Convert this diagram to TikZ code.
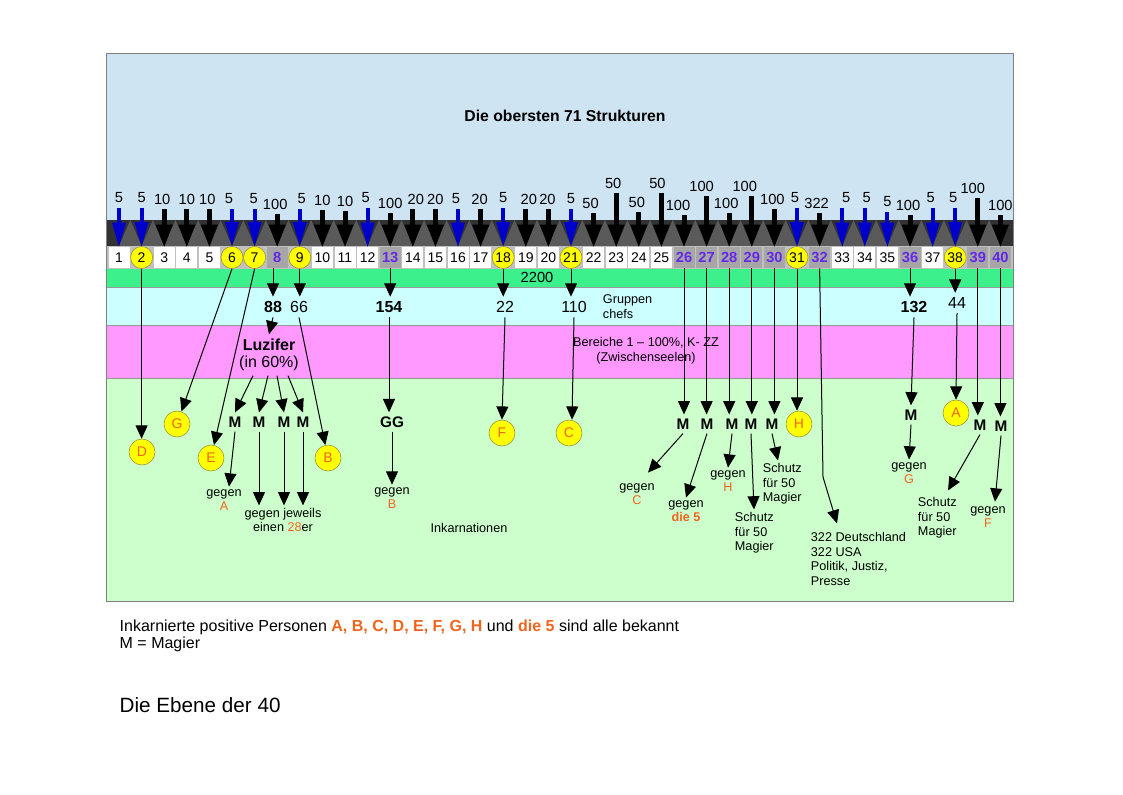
\documentclass[tikz,border=0pt]{standalone}
\usepackage{fontspec}
\setmainfont{Liberation Sans}
\usetikzlibrary{arrows.meta,calc}
\definecolor{himmel}{RGB}{207,228,242}
\definecolor{dunkel}{RGB}{50,50,50}
\definecolor{dunkelhell}{RGB}{90,90,90}
\definecolor{streifen}{RGB}{192,192,192}
\definecolor{zellgrau}{RGB}{166,166,166}
\definecolor{gruen}{RGB}{60,240,140}
\definecolor{tuerkis}{RGB}{204,255,255}
\definecolor{rosa}{RGB}{255,153,255}
\definecolor{hellgruen}{RGB}{204,255,204}
\definecolor{gelb}{RGB}{255,255,0}
\definecolor{gelbrand}{RGB}{150,140,60}
\definecolor{orangerot}{RGB}{240,100,30}
\definecolor{lila}{RGB}{100,40,230}
\definecolor{blaupfeil}{RGB}{0,0,204}
\tikzset{
  zelle/.style={minimum width=15.75pt,minimum height=15.75pt,inner sep=0pt,fill=white,font=\fontsize{10.5}{12}\selectfont},
  hzelle/.style={zelle,fill=zellgrau,text=lila,font=\bfseries\fontsize{11}{12}\selectfont},
  kzelle/.style={circle,fill=gelb,draw=gelbrand,minimum size=16.5pt,inner sep=0pt,font=\fontsize{10.5}{12}\selectfont},
  zahl/.style={font=\fontsize{11}{13}\selectfont},
  gross/.style={font=\fontsize{12}{14}\selectfont},
  grossfett/.style={font=\bfseries\fontsize{12}{14}\selectfont},
  magier/.style={font=\bfseries\fontsize{11.5}{13}\selectfont,inner sep=3pt},
  klein/.style={font=\fontsize{9.5}{10.5}\selectfont,align=center,inner sep=2pt},
  block/.style={font=\fontsize{9.5}{11}\selectfont,align=left,inner sep=2pt},
  buchst/.style={circle,fill=gelb,draw=gelbrand,minimum size=19.5pt,inner sep=0pt,text=orangerot,font=\fontsize{10.5}{12}\selectfont},
  pfeil/.style={line width=0.75pt,-{Triangle[length=10pt,width=9pt]}},
  pfeilschwarz/.style={line width=3.75pt,-{Triangle[length=16.5pt,width=12.75pt,line width=0pt]}},
  pfeilblau/.style={blaupfeil,line width=3pt,-{Triangle[length=18pt,width=10.5pt,line width=0pt]}},
}
\begin{document}
\begin{tikzpicture}[x=0.75pt,y=-0.75pt]
\useasboundingbox (0,0) rectangle (1123,794);
% Baender
\fill[himmel] (106,53) rectangle (1013,220);
\fill[dunkel] (106,220) rectangle (1013,246);
\foreach \i in {1,...,39}
  \fill[dunkelhell] ({119+(\i-1)*22.6},246) -- ({119+(\i-0.5)*22.6},220) -- ({119+\i*22.6},246) -- cycle;
\fill[streifen] (106,246) rectangle (1013,269);
\fill[gruen] (106,269) rectangle (1013,287);
\fill[tuerkis] (106,287) rectangle (1013,325);
\fill[rosa] (106,325) rectangle (1013,378);
\fill[hellgruen] (106,378) rectangle (1013,601);
\draw[gray!80,line width=0.5pt] (106,287) -- (1013,287) (106,325) -- (1013,325) (106,378) -- (1013,378);
\draw[gray,line width=0.6pt] (106,53) rectangle (1013,601);
\node[font=\bfseries\fontsize{11.8}{14}\selectfont] (titel) at (565,116) {Die obersten 71 Strukturen};
% Zellen 1 bis 40
\foreach \i in {1,3,4,5,10,11,12,14,15,16,17,19,20,22,23,24,25,33,34,35,37}
  \node[zelle] (c\i) at ({119+(\i-1)*22.6},257.5) {\i};
\foreach \i in {8,13,26,27,28,29,30,32,36,39,40}
  \node[hzelle] (c\i) at ({119+(\i-1)*22.6},257.5) {\i};
\foreach \i in {2,6,7,9,18,21,31,38}
  \node[kzelle] (c\i) at ({119+(\i-1)*22.6},257.5) {\i};
% blaue Pfeile (je 5)
\foreach \i/\dx/\ly in {1/0/198,2/0/198,6/-3/199,7/-1/199,9/2/199,12/-2/198,16/-2/199,18/0/198,21/0/199,31/-2/198,33/4/198,34/2/198,35/0/202,37/-2/198,38/-2/198}{
  \node[zahl] (l\i) at ({119+(\i-1)*22.6+\dx},\ly) {5};
  \draw[pfeilblau] (c\i.north |- l\i.south) -- (c\i.north);
}
% schwarze Pfeile
\foreach \i/\v/\dx/\ly in {3/10/-2/199,4/10/0/199,5/10/-2/199,8/100/-2/204,10/10/0/200,11/10/0/201,13/100/0/203,14/20/3/199,15/20/0/199,17/20/-1/199,19/20/3/199,20/20/-1/199,22/50/-3/203,23/50/-3/183,24/50/-2/202,25/50/-4/183,26/100/-6/205,27/100/-5/186,28/100/-3/203,29/100/-7/186,30/100/-2/199,32/322/-3/203,36/100/-2/205,39/100/-5/188,40/100/0/205}{
  \node[zahl] (l\i) at ({119+(\i-1)*22.6+\dx},\ly) {\v};
  \draw[pfeilschwarz] (c\i.north |- l\i.south) -- (c\i.north);
}
\node[zahl] (n2200) at (537,277) {2200};
% Gruppenchefs
\node[grossfett] (n88) at (273,307) {88};
\node[gross] (n66) at (299,307) {66};
\node[grossfett] (n154) at (389,307) {154};
\node[gross] (n22) at (505,307) {22};
\node[gross] (n110) at (574,307) {110};
\node[block,anchor=west,font=\fontsize{9.5}{11.25}\selectfont] (gruppen) at (600,306.5) {Gruppen\\chefs};
\node[grossfett] (n132) at (914,307) {132};
\node[gross] (n44) at (957,303) {44};
\draw[pfeil] (c8.south -| n88.north) -- (n88.north);
\draw[pfeil] (c9.south) -- (c9.south |- n66.north);
\draw[pfeil] (c13.south) -- (c13.south |- n154.north);
\draw[pfeil] (c18.south) -- (c18.south |- n22.north);
\draw[pfeil] (c21.south) -- (c21.south |- n110.north);
\draw[pfeil] (c36.south) -- (c36.south |- n132.north);
\draw[pfeil] (c38.south) -- (c38.south |- n44.north);
% Bereiche
\node[align=center,font=\fontsize{12}{12.75}\selectfont] (luz) at (269,355) {\textbf{Luzifer}\\(in 60\%)};
\node[align=center,font=\fontsize{9.5}{11.25}\selectfont] (bereiche) at (646,351) {Bereiche 1 -- 100\%, K- ZZ\\(Zwischenseelen)};
\draw[pfeil] (n88.south) -- (luz.north);
% Inkarnationen
\node[buchst] (cD) at (142,452) {D};
\node[buchst] (cG) at (177,424) {G};
\node[buchst] (cE) at (211,458) {E};
\node[buchst] (cB) at (328,458) {B};
\draw[pfeil] (c2.south) -- (c2.south |- cD.north);
\draw[pfeil] (c6.south) -- (cG);
\draw[pfeil] (c7.south) -- (cE);
\draw[pfeil] (n66.south) -- (cB);
\node[magier] (mA) at (235,422) {M};
\node[magier] (mB) at (259,422) {M};
\node[magier] (mC) at (284,422) {M};
\node[magier] (mD) at (303,422) {M};
\draw[pfeil] ($(luz.south)+(-16,0)$) -- (mA.north);
\draw[pfeil] ($(luz.south)+(-1,0)$) -- (mB.north);
\draw[pfeil] ($(luz.south)+(8,0)$) -- (mC.north);
\draw[pfeil] ($(luz.south)+(19,0)$) -- (mD.north);
\node[klein] (gA) at (224,500) {gegen\\\textcolor{orangerot}{A}};
\node[klein] (jew) at (283,520) {gegen jeweils\\einen \textcolor{orangerot}{28}er};
\draw[pfeil] (mA.south) -- ($(gA.north)+(5,0)$);
\draw[pfeil] (mB.south) -- (mB.south |- jew.north);
\draw[pfeil] (mC.south) -- (mC.south |- jew.north);
\draw[pfeil] (mD.south) -- (mD.south |- jew.north);
\node[magier] (GG) at (392,422) {GG};
\node[klein] (gB) at (392,498) {gegen\\\textcolor{orangerot}{B}};
\draw[pfeil] (n154.south) -- (n154.south |- GG.north);
\draw[pfeil] (GG.south) -- (gB.north);
\node[buchst] (cF) at (502,433) {F};
\node[buchst] (cC) at (569,433) {C};
\draw[pfeil] (n22.south) -- (cF.north);
\draw[pfeil] (n110.south) -- ($(cC.north)+(3,0)$);
\node[font=\fontsize{9.5}{11}\selectfont] (inkarn) at (469,528) {Inkarnationen};
% Zellen 26 bis 32
\foreach \i/\mx in {26/683,27/707,28/732,29/751,30/772}{
  \node[magier] (m\i) at (\mx,424) {M};
  \draw[pfeil] (c\i.south) -- (c\i.south |- m\i.north);
}
\node[buchst] (cH) at (799,424) {H};
\draw[pfeil] (c31.south) -- (c31.south |- cH.north);
\node[klein] (gC) at (637,494) {gegen\\\textcolor{orangerot}{C}};
\node[klein] (g5) at (686,511) {gegen\\\textcolor{orangerot}{\textbf{die 5}}};
\node[klein] (gH) at (728,481) {gegen\\\textcolor{orangerot}{H}};
\node[block,anchor=west] (schutzA) at (732,533) {Schutz\\für 50\\Magier};
\node[block,anchor=west] (schutzB) at (760,484) {Schutz\\für 50\\Magier};
\draw[pfeil] (m26.south) -- ($(gC.north)+(11,-8)$);
\draw[pfeil] (m27.south) -- (g5.north);
\draw[pfeil] (m28.south) -- (gH.north);
\draw[pfeil] (m29.south) -- ($(schutzA.north west)+(22,0)$);
\draw[pfeil] (m30.south) -- ($(schutzB.north west)+(18,0)$);
\coordinate (k32) at (823,477);
\node[block,anchor=west] (sb) at (808,559) {322 Deutschland\\322 USA\\Politik, Justiz,\\Presse};
\draw[pfeil] (c32.south) -- (k32) -- ($(sb.north west)+(29,-6)$);
% Zellen 36 bis 40
\node[magier] (m36) at (911,415) {M};
\node[klein] (gG) at (909,473) {gegen\\\textcolor{orangerot}{G}};
\draw[pfeil] (n132.south) -- (m36.north);
\draw[pfeil] (m36.south) -- (gG.north);
\node[buchst] (cA) at (956,413) {A};
\draw[pfeil] (n44.south) -- (cA.north);
\node[magier] (m39) at (980,425) {M};
\node[magier] (m40) at (1001,426) {M};
\draw[pfeil] (c39.south) -- (c39.south |- m39.north);
\draw[pfeil] (c40.south) -- (c40.south |- m40.north);
\node[block,anchor=west] (schutzC) at (915,518) {Schutz\\für 50\\Magier};
\node[klein] (gF) at (988,517) {gegen\\\textcolor{orangerot}{F}};
\draw[pfeil] (m39.south) -- ($(schutzC.north west)+(33,-4)$);
\draw[pfeil] (m40.south) -- ($(gF.north)+(7,-2)$);
% Legende
\node[anchor=west,align=left,font=\fontsize{12}{12.75}\selectfont] (legende) at (115,635.5) {Inkarnierte positive Personen \textcolor{orangerot}{\textbf{A, B, C, D, E, F, G, H}} und \textcolor{orangerot}{\textbf{die 5}} sind alle bekannt\\M = Magier};
\node[anchor=west,font=\fontsize{15.5}{18}\selectfont] (ebene) at (115,705) {Die Ebene der 40};
\end{tikzpicture}
\end{document}
